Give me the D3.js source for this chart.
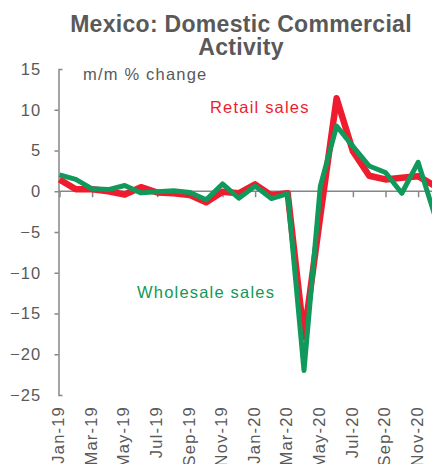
<!DOCTYPE html>
<html>
<head>
<meta charset="utf-8">
<script src="https://cdn.jsdelivr.net/npm/d3@7"></script>
<style>
  html, body { margin: 0; padding: 0; background: #fff; }
  svg { display: block; font-family: "Liberation Sans", Arial, sans-serif; }
</style>
</head>
<body>
<script>
const months = ["Jan-19","Feb-19","Mar-19","Apr-19","May-19","Jun-19","Jul-19","Aug-19","Sep-19","Oct-19","Nov-19","Dec-19",
                "Jan-20","Feb-20","Mar-20","Apr-20","May-20","Jun-20","Jul-20","Aug-20","Sep-20","Oct-20","Nov-20","Dec-20"];
const retail = [1.45, 0.25, 0.25, 0.0, -0.4, 0.5, -0.15, -0.25, -0.45, -1.35, -0.05, -0.25,
                0.85, -0.5, -0.25, -17.9, -3.0, 11.4, 4.9, 1.9, 1.45, 1.65, 1.85, 0.7];
const wholesale = [2.0, 1.45, 0.3, 0.2, 0.7, -0.2, -0.05, 0.05, -0.15, -1.05, 0.9, -0.85,
                   0.65, -0.9, -0.3, -22.0, 0.6, 8.0, 5.5, 3.1, 2.3, -0.25, 3.55, -2.8];
const yTicks = [15, 10, 5, 0, -5, -10, -15, -20, -25];
const xTickLabels = ["Jan-19","Mar-19","May-19","Jul-19","Sep-19","Nov-19","Jan-20","Mar-20","May-20","Jul-20","Sep-20","Nov-20"];
const titleLines = ["Mexico: Domestic Commercial", "Activity"];
const unitLabel = "m/m % change";
const seriesNames = ["Retail sales", "Wholesale sales"];

const W = 432, H = 464;
const gray = "#595959", axisGray = "#868686";
const red = "#EE1C2E", green = "#10995A";

const svg = d3.select("body").append("svg").attr("width", W).attr("height", H);
svg.append("rect").attr("width", W).attr("height", H).attr("fill", "#fff");

const x = d3.scalePoint().domain(months).range([59.5, 434.4]);
const y = d3.scaleLinear().domain([-25, 15]).range([395, 69]);

// Title
svg.append("g").selectAll("text").data(titleLines).join("text")
  .attr("x", 241).attr("y", (d, i) => 31.5 + i * 23.5)
  .attr("text-anchor", "middle").attr("fill", gray)
  .attr("font-size", 23).attr("font-weight", "bold").attr("letter-spacing", 0.3)
  .text(d => d);

// Y axis
const yAxis = svg.append("g").attr("transform", "translate(58.5,0)")
  .call(d3.axisLeft(y).tickValues(yTicks).tickSizeInner(4).tickSizeOuter(-4).tickPadding(13).tickFormat(d3.format("d")));
yAxis.select(".domain").attr("stroke", axisGray).attr("stroke-width", 1.5);
yAxis.selectAll(".tick line").attr("stroke", axisGray).attr("stroke-width", 1.5)
  .attr("x2", d => (d === 15 || d === -25) ? 0 : -4);
yAxis.selectAll(".tick text").attr("fill", gray).attr("font-size", 16.5)
  .attr("letter-spacing", 1.2).attr("font-family", "Liberation Sans, Arial, sans-serif");

// X axis along zero
const xAxis = svg.append("g").attr("transform", `translate(0,${y(0)})`)
  .call(d3.axisBottom(x).tickValues(xTickLabels).tickSizeInner(6).tickSizeOuter(0).tickFormat(""));
xAxis.select(".domain").attr("d", `M58.5,0H${W}`).attr("stroke", axisGray).attr("stroke-width", 1.5);
xAxis.selectAll(".tick line").attr("stroke", axisGray).attr("stroke-width", 1.5);

// X labels at bottom, rotated
svg.append("g").selectAll("text").data(xTickLabels).join("text")
  .attr("transform", d => `translate(${x(d) - 1},406) rotate(-90)`)
  .attr("dy", "0.35em").attr("text-anchor", "end")
  .attr("fill", gray).attr("font-size", 16.5).attr("letter-spacing", 1.2)
  .text(d => d);

// Lines
const line = d3.line().x((d, i) => x(months[i])).y(d => y(d));
svg.append("path").datum(retail).attr("d", line)
  .attr("fill", "none").attr("stroke", red).attr("stroke-width", 6.5)
  .attr("stroke-linejoin", "round").attr("stroke-linecap", "butt");
svg.append("path").datum(wholesale).attr("d", line)
  .attr("fill", "none").attr("stroke", green).attr("stroke-width", 5)
  .attr("stroke-linejoin", "round").attr("stroke-linecap", "butt");

// Unit label
svg.append("text").attr("x", 83).attr("y", 80).attr("fill", gray)
  .attr("font-size", 16.5).attr("letter-spacing", 1.2).text(unitLabel);

// Series labels
svg.append("text").attr("x", 210).attr("y", 113).attr("fill", red)
  .attr("font-size", 16.5).attr("letter-spacing", 1.2).text(seriesNames[0]);
svg.append("text").attr("x", 137).attr("y", 298).attr("fill", green)
  .attr("font-size", 16.5).attr("letter-spacing", 1.2).text(seriesNames[1]);
</script>
</body>
</html>
